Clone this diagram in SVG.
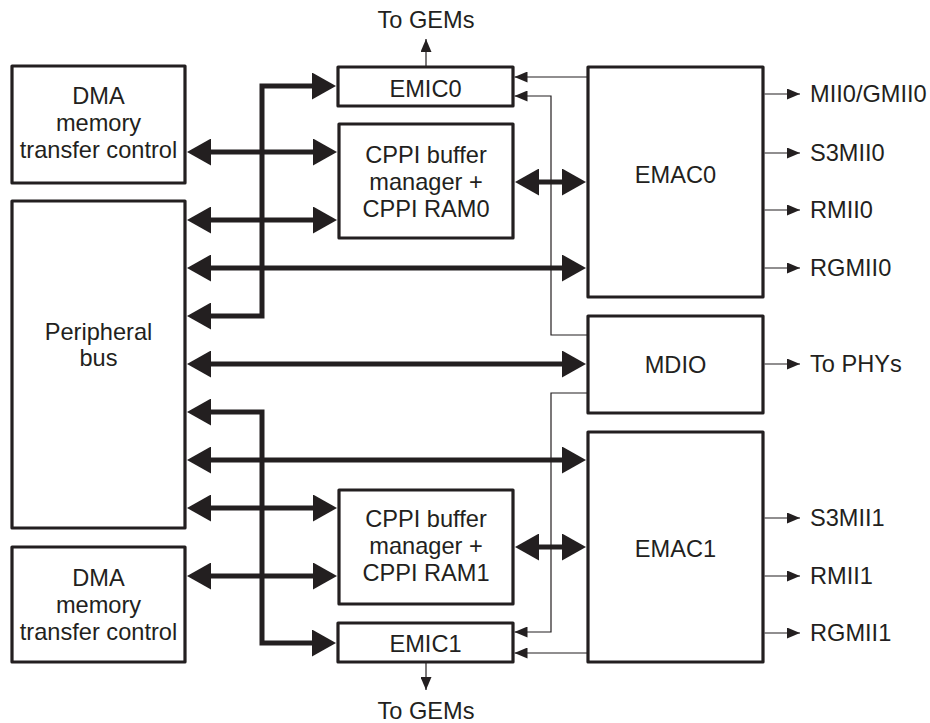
<svg xmlns="http://www.w3.org/2000/svg" width="930" height="723" viewBox="0 0 930 723">
<style>
.box{fill:#fff;stroke:#231f20;stroke-width:3.2;stroke-linejoin:round}
.t{font-family:"Liberation Sans",Arial,Helvetica,sans-serif;font-size:23.6px;fill:#231f20;text-anchor:middle}
.l{font-family:"Liberation Sans",Arial,Helvetica,sans-serif;font-size:23.6px;fill:#231f20;text-anchor:start}
.thick{fill:none;stroke:#231f20;stroke-width:5;stroke-linejoin:miter}
.thin{fill:none;stroke:#231f20;stroke-width:1.2}
.bi{marker-start:url(#th);marker-end:url(#th)}
.one{marker-end:url(#tn)}
</style>
<defs>
<marker id="th" markerUnits="userSpaceOnUse" viewBox="0 0 24 27" markerWidth="24" markerHeight="27" refX="14" refY="13.5" orient="auto-start-reverse">
<path d="M0,0 L24,13.5 L0,27 z" fill="#231f20"/>
</marker>
<marker id="tn" markerUnits="userSpaceOnUse" viewBox="0 0 13 11" markerWidth="13" markerHeight="11" refX="13" refY="5.5" orient="auto">
<path d="M0,0 L13,5.5 L0,11 z" fill="#231f20"/>
</marker>
</defs>
<rect width="930" height="723" fill="#fff"/>

<g id="connectors">
<path class="thick bi" d="M197,152 H327"/>
<path class="thick bi" d="M197,220 H327"/>
<path class="thick bi" d="M197,268 H576"/>
<path class="thick bi" d="M197,316 H262 V86 H326"/>
<path class="thick bi" d="M197,364 H576"/>
<path class="thick bi" d="M197,412 H262 V643 H326"/>
<path class="thick bi" d="M197,460 H576"/>
<path class="thick bi" d="M197,508 H327"/>
<path class="thick bi" d="M197,576 H327"/>
<path class="thick bi" d="M525,182 H576"/>
<path class="thick bi" d="M525,547 H576"/>
<path class="thin one" d="M587,77 H514.5"/>
<path class="thin one" d="M587,335 H551 V96 H514.5"/>
<path class="thin one" d="M587,393 H551 V632 H514.5"/>
<path class="thin one" d="M587,653 H514.5"/>
<path class="thin one" d="M426,66 V39"/>
<path class="thin one" d="M426,663 V690"/>
<path class="thin one" d="M764.5,94 H800"/>
<path class="thin one" d="M764.5,153 H800"/>
<path class="thin one" d="M764.5,210 H800"/>
<path class="thin one" d="M764.5,268 H800"/>
<path class="thin one" d="M764.5,364 H800"/>
<path class="thin one" d="M764.5,518 H800"/>
<path class="thin one" d="M764.5,576 H800"/>
<path class="thin one" d="M764.5,633 H800"/>
</g>

<g id="dma0">
<rect class="box" x="12" y="66" width="173" height="117"/>
<text class="t" x="98.5" y="104">DMA</text>
<text class="t" x="98.5" y="131">memory</text>
<text class="t" x="98.5" y="158">transfer control</text>
</g>
<g id="peripheral-bus">
<rect class="box" x="12" y="201" width="173" height="327"/>
<text class="t" x="98.5" y="340">Peripheral</text>
<text class="t" x="98.5" y="366">bus</text>
</g>
<g id="dma1">
<rect class="box" x="12" y="547" width="173" height="115"/>
<text class="t" x="98.5" y="586">DMA</text>
<text class="t" x="98.5" y="613">memory</text>
<text class="t" x="98.5" y="640">transfer control</text>
</g>
<g id="emic0">
<rect class="box" x="338" y="67" width="175" height="39"/>
<text class="t" x="425.5" y="97">EMIC0</text>
</g>
<g id="cppi0">
<rect class="box" x="339" y="124" width="174" height="114"/>
<text class="t" x="426" y="163">CPPI buffer</text>
<text class="t" x="426" y="190">manager +</text>
<text class="t" x="426" y="217">CPPI RAM0</text>
</g>
<g id="cppi1">
<rect class="box" x="339" y="490" width="174" height="114"/>
<text class="t" x="426" y="527">CPPI buffer</text>
<text class="t" x="426" y="554">manager +</text>
<text class="t" x="426" y="581">CPPI RAM1</text>
</g>
<g id="emic1">
<rect class="box" x="338" y="623" width="175" height="39"/>
<text class="t" x="425.5" y="652">EMIC1</text>
</g>
<g id="emac0">
<rect class="box" x="588" y="67" width="175" height="230"/>
<text class="t" x="675.5" y="183">EMAC0</text>
</g>
<g id="mdio">
<rect class="box" x="588" y="316" width="175" height="97"/>
<text class="t" x="675.5" y="373">MDIO</text>
</g>
<g id="emac1">
<rect class="box" x="588" y="432" width="175" height="230"/>
<text class="t" x="675.5" y="557">EMAC1</text>
</g>
<g id="labels">
<text class="t" x="426" y="28">To GEMs</text>
<text class="t" x="426" y="719">To GEMs</text>
<text class="l" x="810" y="102">MII0/GMII0</text>
<text class="l" x="810" y="161">S3MII0</text>
<text class="l" x="810" y="218">RMII0</text>
<text class="l" x="810" y="276">RGMII0</text>
<text class="l" x="810" y="372">To PHYs</text>
<text class="l" x="810" y="526">S3MII1</text>
<text class="l" x="810" y="584">RMII1</text>
<text class="l" x="810" y="641">RGMII1</text>
</g>
</svg>
